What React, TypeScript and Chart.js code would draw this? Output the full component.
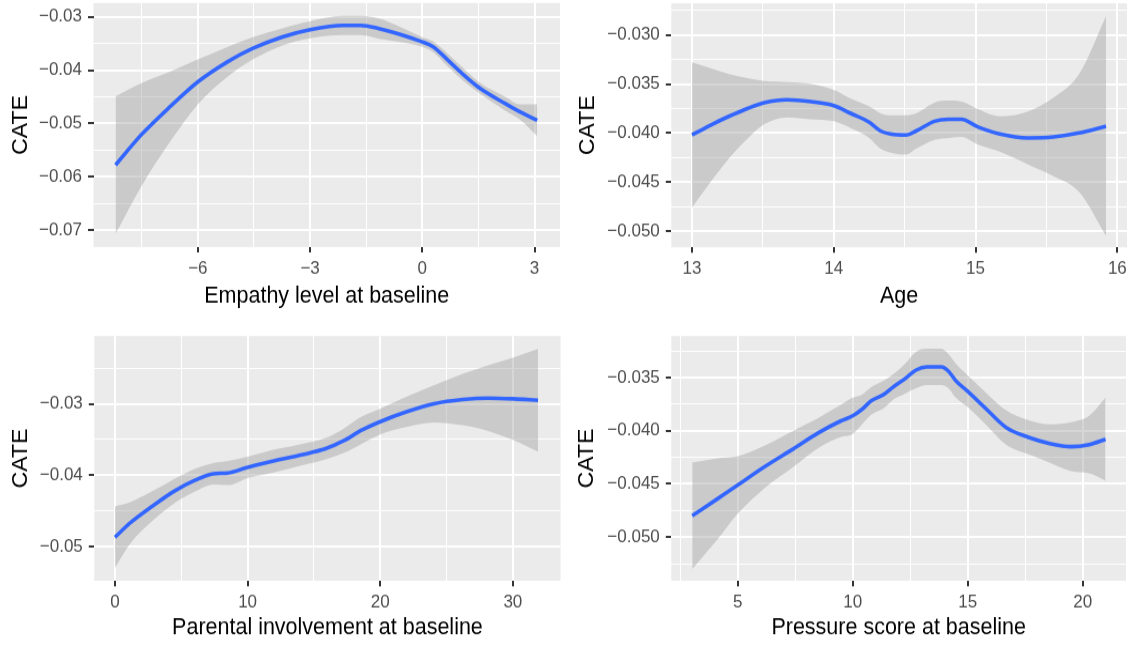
import React, { useEffect, useRef } from "react";
import { Chart, registerables } from "chart.js";

Chart.register(...registerables);

// ---------- Panel 1: Empathy level at baseline ----------
const empathyX = [-8.2, -7.52, -6.75, -6.0, -5.2, -4.53, -3.76, -3.0, -2.12, -1.64, -1.16, -0.68, 0.0, 0.29, 0.68, 1.06, 1.5, 2.22, 2.6, 3.07];
const empathyFit = [-0.0578, -0.0522, -0.0469, -0.0422, -0.0384, -0.0359, -0.0338, -0.0324, -0.0316, -0.0316, -0.0322, -0.0331, -0.0347, -0.0356, -0.0381, -0.0406, -0.0432, -0.0463, -0.0478, -0.0494];
const empathyHi = [-0.0449, -0.0425, -0.0403, -0.038, -0.0356, -0.0338, -0.0322, -0.0308, -0.0298, -0.0298, -0.0303, -0.0316, -0.0338, -0.0346, -0.0369, -0.0394, -0.0422, -0.045, -0.0464, -0.0464];
const empathyLo = [-0.0707, -0.0619, -0.0535, -0.0464, -0.0412, -0.038, -0.0354, -0.034, -0.0334, -0.0334, -0.0341, -0.0346, -0.0356, -0.0366, -0.0393, -0.0418, -0.0442, -0.0476, -0.0492, -0.0524];
const empathyXMajor = [-6, -3, 0, 3];
const empathyXMinor = [-7.5, -4.5, -1.5, 1.5];
const empathyYMajor = [-0.07, -0.06, -0.05, -0.04, -0.03];
const empathyYMinor = [-0.065, -0.055, -0.045, -0.035];

// ---------- Panel 2: Age ----------
const ageX = [13.0, 13.13, 13.26, 13.39, 13.51, 13.67, 13.84, 14.0, 14.12, 14.25, 14.33, 14.4, 14.51, 14.58, 14.71, 14.81, 14.9, 15.02, 15.17, 15.37, 15.55, 15.73, 15.92];
const ageFit = [-0.0402, -0.0392, -0.0383, -0.0375, -0.0369, -0.0366, -0.0368, -0.0372, -0.038, -0.0389, -0.0398, -0.0401, -0.0402, -0.0398, -0.0388, -0.0386, -0.0386, -0.0394, -0.0401, -0.0405, -0.0404, -0.04, -0.0393];
const ageHi = [-0.0328, -0.0334, -0.034, -0.0344, -0.0347, -0.0348, -0.035, -0.0356, -0.0365, -0.0373, -0.038, -0.0382, -0.0382, -0.038, -0.0369, -0.0367, -0.0368, -0.0376, -0.0383, -0.0378, -0.0364, -0.034, -0.0281];
const ageLo = [-0.0476, -0.045, -0.0426, -0.0406, -0.0391, -0.0384, -0.0386, -0.0388, -0.0395, -0.0405, -0.0416, -0.042, -0.0422, -0.0416, -0.0407, -0.0405, -0.0404, -0.0412, -0.0419, -0.0432, -0.0444, -0.046, -0.0505];
const ageXMajor = [13, 14, 15, 16];
const ageXMinor = [13.5, 14.5, 15.5];
const ageYMajor = [-0.05, -0.045, -0.04, -0.035, -0.03];
const ageYMinor = [-0.0475, -0.0425, -0.0375, -0.0325, -0.0275];

// ---------- Panel 3: Parental involvement at baseline ----------
const parentX = [0, 1.15, 2.78, 4.42, 6.05, 7.42, 8.51, 10, 11.78, 13.96, 15.87, 17.23, 18.6, 20, 21.87, 24.05, 26.23, 28.14, 30.05, 31.9];
const parentFit = [-0.0487, -0.0467, -0.0444, -0.0423, -0.0407, -0.0398, -0.0397, -0.0389, -0.0381, -0.0372, -0.0363, -0.0352, -0.0337, -0.0325, -0.0312, -0.03, -0.0294, -0.0292, -0.0293, -0.0295];
const parentHi = [-0.0444, -0.0438, -0.0423, -0.0406, -0.0391, -0.0383, -0.038, -0.0374, -0.0365, -0.0357, -0.0348, -0.0335, -0.0318, -0.0307, -0.0291, -0.0274, -0.0258, -0.0246, -0.0235, -0.0223];
const parentLo = [-0.053, -0.0496, -0.0465, -0.044, -0.0423, -0.0413, -0.0414, -0.0404, -0.0397, -0.0387, -0.0378, -0.0369, -0.0356, -0.0343, -0.0333, -0.0326, -0.033, -0.0338, -0.0351, -0.0367];
const parentXMajor = [0, 10, 20, 30];
const parentXMinor = [5, 15, 25];
const parentYMajor = [-0.05, -0.04, -0.03];
const parentYMinor = [-0.045, -0.035, -0.025];

// ---------- Panel 4: Pressure score at baseline ----------
const pressureX = [3.02, 4.12, 5, 6.16, 7.42, 8.51, 9.46, 10, 10.4, 10.8, 11.34, 11.81, 12.28, 12.75, 13.22, 13.85, 14.16, 14.48, 15, 15.73, 16.67, 17.62, 18.56, 19.5, 20.28, 20.99];
const pressureFit = [-0.048, -0.0464, -0.0451, -0.0434, -0.0417, -0.0402, -0.0391, -0.0386, -0.038, -0.0372, -0.0366, -0.0358, -0.0351, -0.0343, -0.034, -0.034, -0.0344, -0.0353, -0.0363, -0.0378, -0.0397, -0.0406, -0.0412, -0.0415, -0.0413, -0.0408];
const pressureHi = [-0.043, -0.0426, -0.0424, -0.0414, -0.04, -0.0388, -0.0376, -0.0369, -0.0366, -0.0359, -0.0353, -0.0346, -0.0337, -0.0326, -0.0323, -0.0323, -0.0328, -0.0337, -0.0348, -0.0363, -0.0381, -0.039, -0.0394, -0.0392, -0.0386, -0.0369];
const pressureLo = [-0.053, -0.0502, -0.0478, -0.0454, -0.0434, -0.0416, -0.0406, -0.0403, -0.0394, -0.0385, -0.0379, -0.037, -0.0365, -0.036, -0.0357, -0.0357, -0.036, -0.0369, -0.0378, -0.0393, -0.0413, -0.0422, -0.043, -0.0438, -0.044, -0.0447];
const pressureXMajor = [5, 10, 15, 20];
const pressureXMinor = [2.5, 7.5, 12.5, 17.5];
const pressureYMajor = [-0.05, -0.045, -0.04, -0.035];
const pressureYMinor = [-0.0525, -0.0475, -0.0425, -0.0375, -0.0325];

const yTitle = "CATE";

const FONT = "'Liberation Sans', Arial, Helvetica, sans-serif";
const STRETCH = 1.07; // the reference is slightly taller than wide

// layout values in final page pixels
const panels = [
  {
    key: "empathy", xTitle: "Empathy level at baseline",
    x: empathyX, fit: empathyFit, lo: empathyLo, hi: empathyHi,
    xMajor: empathyXMajor, xMinor: empathyXMinor, yMajor: empathyYMajor, yMinor: empathyYMinor,
    xMin: -8.79, xMax: 3.68, yMin: -0.0732, yMax: -0.0274, xDec: 0, yDec: 2,
    left: 0, top: 0, w: 566, h: 323, padTop: 3, padRight: 6, yW: 93.5, xH: 76, xTitleC: 27, yTitleC: 20.7,
  },
  {
    key: "age", xTitle: "Age",
    x: ageX, fit: ageFit, lo: ageLo, hi: ageHi,
    xMajor: ageXMajor, xMinor: ageXMinor, yMajor: ageYMajor, yMinor: ageYMinor,
    xMin: 12.854, xMax: 16.068, yMin: -0.05166, yMax: -0.02677, xDec: 0, yDec: 3,
    left: 566, top: 0, w: 566, h: 323, padTop: 3.3, padRight: 5, yW: 105.3, xH: 75.7, xTitleC: 27, yTitleC: 21.7,
  },
  {
    key: "parent", xTitle: "Parental involvement at baseline",
    x: parentX, fit: parentFit, lo: parentLo, hi: parentHi,
    xMajor: parentXMajor, xMinor: parentXMinor, yMajor: parentYMajor, yMinor: parentYMinor,
    xMin: -1.56, xMax: 33.6, yMin: -0.0548, yMax: -0.0205, xDec: 0, yDec: 2,
    left: 0, top: 323, w: 566, h: 324, padTop: 13, padRight: 5.4, yW: 94.3, xH: 66.3, xTitleC: 19, yTitleC: 20.8,
  },
  {
    key: "pressure", xTitle: "Pressure score at baseline",
    x: pressureX, fit: pressureFit, lo: pressureLo, hi: pressureHi,
    xMajor: pressureXMajor, xMinor: pressureXMinor, yMajor: pressureYMajor, yMinor: pressureYMinor,
    xMin: 2.11, xMax: 21.88, yMin: -0.0541, yMax: -0.0311, xDec: 0, yDec: 3,
    left: 566, top: 323, w: 566, h: 324, padTop: 13, padRight: 6, yW: 105.3, xH: 66.3, xTitleC: 19, yTitleC: 21.5,
  },
];

const TICK_SIZE = 17;
const TITLE_SIZE = 21.5;
const TITLE_LH = TITLE_SIZE * 1.2;

const fmt = (v: number, d: number) => {
  const s = Math.abs(v).toFixed(d);
  return (v < -1e-12 ? "\u2212" : "") + s;
};
const isMajor = (list: number[], v: number) => list.some((m) => Math.abs(m - v) < 1e-9);

const bgPlugin = {
  id: "panelBg",
  beforeDraw(chart: any) {
    const { ctx, chartArea: a } = chart;
    ctx.save();
    ctx.fillStyle = "#EBEBEB";
    ctx.fillRect(a.left, a.top, a.right - a.left, a.bottom - a.top);
    ctx.restore();
  },
};

function makeScale(p: any, axis: "x" | "y", s: number) {
  const majors: number[] = axis === "x" ? p.xMajor : p.yMajor;
  const minors: number[] = axis === "x" ? p.xMinor : p.yMinor;
  const all = [...majors, ...minors].sort((a, b) => a - b);
  const dec = axis === "x" ? p.xDec : p.yDec;
  const isX = axis === "x";
  return {
    type: "linear",
    position: isX ? "bottom" : "left",
    min: isX ? p.xMin : p.yMin,
    max: isX ? p.xMax : p.yMax,
    afterBuildTicks: (sc: any) => {
      sc.ticks = all.map((v) => ({ value: v }));
    },
    afterFit: (sc: any) => {
      if (isX) sc.height = p.xH / s;
      else sc.width = p.yW;
      sc.paddingLeft = 0;
      sc.paddingRight = 0;
      sc.paddingTop = 0;
      sc.paddingBottom = 0;
    },
    border: { display: false },
    grid: {
      drawOnChartArea: true,
      drawTicks: true,
      tickLength: isX ? 5.5 / s : 5.5,
      color: "#FFFFFF",
      lineWidth: (c: any) => (c.tick && isMajor(majors, c.tick.value) ? 2 : 1),
      tickColor: (c: any) => (c.tick && isMajor(majors, c.tick.value) ? "#333333" : "rgba(0,0,0,0)"),
      tickWidth: 2,
    },
    ticks: {
      autoSkip: false,
      maxRotation: 0,
      minRotation: 0,
      padding: isX ? 5.5 / s : 6,
      color: "#4D4D4D",
      font: { family: FONT, size: TICK_SIZE },
      callback: (v: any) => (isMajor(majors, Number(v)) ? fmt(Number(v), dec) : ""),
    },
    title: {
      display: true,
      text: isX ? p.xTitle : yTitle,
      color: "#000000",
      font: { family: FONT, size: TITLE_SIZE, lineHeight: 1.2 },
      padding: isX
        ? { top: 0, bottom: p.xTitleC / s - TITLE_LH / 2 }
        : { top: p.yTitleC - TITLE_LH / 2, bottom: 0 },
    },
  };
}

function Panel({ p }: { p: any }) {
  const ref = useRef<HTMLCanvasElement>(null);
  const hInt = Math.round(p.h / STRETCH);
  const s = p.h / hInt;
  useEffect(() => {
    if (!ref.current) return;
    const pts = (ys: number[]) => p.x.map((xv: number, i: number) => ({ x: xv, y: ys[i] }));
    const chart = new Chart(ref.current, {
      type: "line",
      data: {
        datasets: [
          {
            data: pts(p.fit),
            borderColor: "#3366FF",
            borderWidth: 3.6,
            pointRadius: 0,
            fill: false,
            cubicInterpolationMode: "monotone",
          },
          {
            data: pts(p.hi),
            borderColor: "rgba(0,0,0,0)",
            borderWidth: 0.01,
            pointRadius: 0,
            backgroundColor: "rgba(153,153,153,0.4)",
            fill: "+1",
            cubicInterpolationMode: "monotone",
          },
          {
            data: pts(p.lo),
            borderColor: "rgba(0,0,0,0)",
            borderWidth: 0.01,
            pointRadius: 0,
            fill: false,
            cubicInterpolationMode: "monotone",
          },
        ],
      } as any,
      options: {
        animation: false,
        responsive: false,
        devicePixelRatio: 1,
        events: [],
        layout: { padding: { top: p.padTop / s, right: p.padRight, bottom: 0, left: 0 } },
        plugins: { legend: { display: false }, tooltip: { enabled: false } },
        scales: { x: makeScale(p, "x", s), y: makeScale(p, "y", s) } as any,
      } as any,
      plugins: [bgPlugin],
    });
    return () => chart.destroy();
  }, [p, s]);
  return (
    <canvas
      ref={ref}
      width={p.w}
      height={hInt}
      style={{ position: "absolute", left: p.left, top: p.top, width: p.w, height: p.h, display: "block" }}
    />
  );
}

export default function App() {
  return (
    <div style={{ position: "absolute", left: 0, top: 0, width: 1132, height: 647, background: "#FFFFFF" }}>
      {panels.map((p) => (
        <Panel key={p.key} p={p} />
      ))}
    </div>
  );
}
